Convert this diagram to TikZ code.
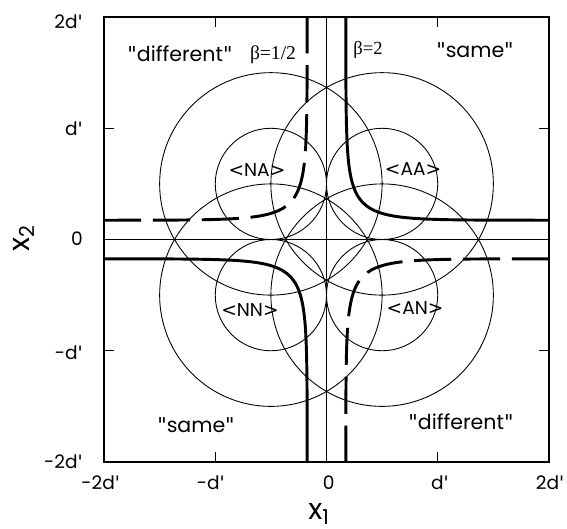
\documentclass[tikz,border=0pt]{standalone}
\usepackage{fontspec}
\setmainfont{Poppins}
\newfontfamily\betafont{Liberation Serif}
\newfontfamily\brfont{DejaVu Sans}
\newcommand{\lt}{{\brfont<}}
\newcommand{\gt}{{\brfont>}}
\newcommand{\qq}{{\brfont"}}
\newcommand{\dpr}{d{\brfont'}}

\begin{document}
\begin{tikzpicture}[x=2cm, y=2cm,
    every node/.style={font=\fontsize{9.5}{11}\selectfont, inner sep=1pt},
    region/.style={font=\fontsize{10.5}{12}\selectfont},
    frame/.style={line width=1.1pt},
    axisline/.style={line width=0.7pt},
    ring/.style={line width=0.45pt},
    bound/.style={line width=1.5pt},
    dashbound/.style={line width=1.5pt, dash pattern=on 19pt off 6pt},
    declare function={zz(\t)=(exp(4*\t)+1)/(3*(exp(4*\t)-1));
                      hb(\t)=0.25*ln((1+zz(\t))/(1-zz(\t)));}]
    \useasboundingbox (-2.935,-2.602) rectangle (2.162,2.153);

    % circles
    \foreach \cx/\cy in {-0.5/0.5, 0.5/0.5, -0.5/-0.5, 0.5/-0.5} {
        \draw[ring] (\cx,\cy) circle[radius=0.5];
        \draw[ring] (\cx,\cy) circle[radius=1];
    }

    % axes through the origin
    \draw[axisline] (-2,0) -- (2,0);
    \draw[axisline] (0,-2) -- (0,2);

    % decision bounds, beta=2 solid, beta=1/2 dashed
    \foreach \sx/\sy/\sty in {1/1/bound, -1/-1/bound, -1/1/dashbound, 1/-1/dashbound}
        \draw[\sty, xscale=\sx, yscale=\sy]
            plot[domain=2:0.3292, samples=50] (\x,{hb(\x)})
            -- plot[domain=0.3292:2, samples=50] ({hb(\x)},\x);

    % frame and ticks
    \draw[frame] (-2,-2) rectangle (2,2);
    \foreach \t in {-1,1} {
        \draw[axisline] (\t,-2) -- ++(0,0.09);
        \draw[axisline] (\t,2) -- ++(0,-0.09);
        \draw[axisline] (-2,\t) -- ++(0.09,0);
        \draw[axisline] (2,\t) -- ++(-0.09,0);
    }

    % tick labels
    \node[anchor=east] (ytop) at (-2.17,1.96) {2\dpr};
    \node[anchor=east] (yone) at (-2.17,1) {\dpr};
    \node[anchor=east] (yzero) at (-2.17,0.01) {0};
    \node[anchor=east] (ymone) at (-2.17,-1.02) {-\dpr};
    \node[anchor=east] (ymtwo) at (-2.17,-2) {-2\dpr};
    \node (xmtwo) at (-2.03,-2.19) {-2\dpr};
    \node (xmone) at (-1.04,-2.19) {-\dpr};
    \node (xzero) at (0.02,-2.19) {0};
    \node (xpone) at (1.02,-2.19) {\dpr};
    \node (xptwo) at (2.01,-2.19) {2\dpr};

    % axis names
    \node (xone) at (-0.067,-2.467) {\fontsize{15}{18}\selectfont x\textsubscript{1}};
    \node[rotate=90] (xtwo) at (-2.719,0.013) {\fontsize{15}{18}\selectfont x\textsubscript{2}};

    % region labels
    \node[region] (diffUL) at (-1.317,1.667) {\qq different\qq};
    \node[font=\betafont\fontsize{10}{12}\selectfont] (betahalf) at (-0.481,1.658) {β=1/2};
    \node[font=\betafont\fontsize{9.5}{11}\selectfont] (betatwo) at (0.373,1.703) {β=2};
    \node[region] (sameUR) at (1.335,1.703) {\qq same\qq};
    \node[region] (sameLL) at (-1.173,-1.667) {\qq same\qq};
    \node[region] (diffLR) at (1.209,-1.640) {\qq different\qq};

    % stimulus labels
    \node (NA) at (-0.625,0.625) {\lt NA\gt};
    \node (AA) at (0.778,0.634) {\lt AA\gt};
    \node (NN) at (-0.688,-0.634) {\lt NN\gt};
    \node (AN) at (0.796,-0.616) {\lt AN\gt};
\end{tikzpicture}
\end{document}
